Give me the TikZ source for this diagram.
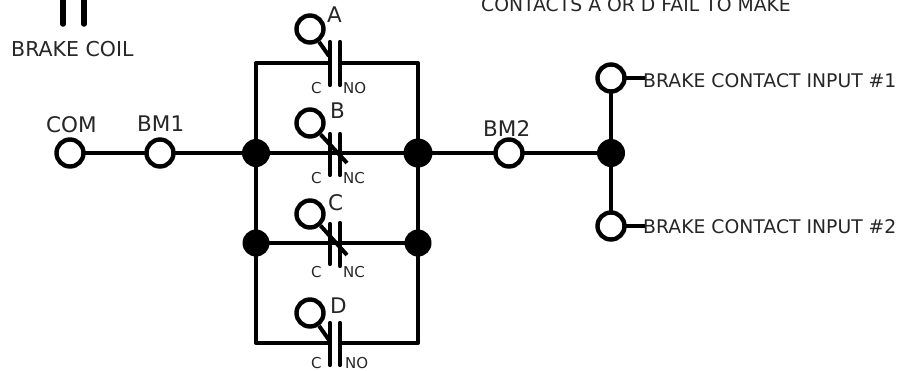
\documentclass[tikz,border=0pt]{standalone}
\usepackage{fontspec}
\setmainfont{DejaVu Sans}
\newcommand{\lbl}[1]{\fontsize{#1}{#1}\selectfont}
\tikzset{
  x=1pt,y=-1pt,
  wire/.style={line width=4pt,black},
  plate/.style={line width=4.2pt,black,line cap=round},
  term/.style={circle,draw=black,line width=4.4pt,fill=white,inner sep=0pt,minimum size=27pt},
  dot/.style={circle,fill=black,inner sep=0pt,minimum size=28pt},
  txt/.style={inner sep=0pt,text=black!85,anchor=base west},
  big/.style={txt,font=\lbl{21.5}},
  mid/.style={txt,font=\lbl{20.5}},
  small/.style={txt,font=\lbl{18.8}},
  tiny/.style={txt,font=\lbl{15}}
}
\begin{document}
\begin{tikzpicture}
\useasboundingbox[fill=white] (0,0) rectangle (907,370);
\coordinate (pcom) at (70,153);
\coordinate (pbm1) at (160,153);
\coordinate (pjl) at (256,153);
\coordinate (pjr) at (418,153);
\coordinate (pbm2) at (509,153);
\coordinate (pjo) at (611,153);
\coordinate (pin1) at (611,78);
\coordinate (pin2) at (611,226);
\coordinate (pjcl) at (256,243);
\coordinate (pjcr) at (418,243);
\coordinate (tl) at (256,63);
\coordinate (tr) at (418,63);
\coordinate (bl) at (256,343);
\coordinate (br) at (418,343);
\coordinate (a1) at (330,63);
\coordinate (a2) at (340,63);
\coordinate (d1) at (330,343);
\coordinate (d2) at (340,343);
\coordinate (w1) at (645,78);
\coordinate (w2) at (645,226);
% wires
\draw[wire] (pcom) -- (pbm1) -- (pjl) -- (pjr) -- (pbm2) -- (pjo);
\draw[wire] (pin1) -- (pjo) -- (pin2);
\draw[wire] (pin1) -- (w1);
\draw[wire] (pin2) -- (w2);
\draw[wire] (pjcl) -- (pjcr);
\draw[wire,line cap=round,line join=round] (a1) -- (tl) -- (pjl) -- (pjcl) -- (bl) -- (d1);
\draw[wire,line cap=round,line join=round] (a2) -- (tr) -- (pjr) -- (pjcr) -- (br) -- (d2);
% nodes
\node[term] (com) at (pcom) {};
\node[term] (bm1) at (pbm1) {};
\node[term] (bm2) at (pbm2) {};
\node[term] (in1) at (pin1) {};
\node[term] (in2) at (pin2) {};
\node[dot] (jl) at (pjl) {};
\node[dot,minimum size=29pt] (jr) at (pjr) {};
\node[dot] (jo) at (pjo) {};
\node[dot,minimum size=27pt] (jcl) at (pjcl) {};
\node[dot,minimum size=27pt] (jcr) at (pjcr) {};
% contact A
\node[term] (ca) at (310,29) {};
\draw[plate] (330,42) -- (330,85);
\draw[plate] (340,42) -- (340,85);
\draw[wire] (ca) -- (329,56);
% contact B
\node[term] (cb) at (310,123) {};
\draw[plate] (330,134) -- (330,175);
\draw[plate] (340,134) -- (340,175);
\draw[wire] (cb) -- (347,163);
% contact C
\node[term] (cc) at (310,214) {};
\draw[plate] (330,224) -- (330,264);
\draw[plate] (340,223) -- (340,266);
\draw[wire] (cc) -- (347,255);
% contact D
\node[term] (cd) at (310,313) {};
\draw[plate] (330,323) -- (330,365);
\draw[plate] (340,323) -- (340,365);
\draw[wire] (cd) -- (329,340);
% brake coil
\coordinate (k1t) at (63,-3);
\coordinate (k1b) at (63,24);
\coordinate (k2t) at (84,-3);
\coordinate (k2b) at (84,24);
\draw[line width=5.5pt,line cap=round] (k1t) -- (k1b);
\draw[line width=5.5pt,line cap=round] (k2t) -- (k2b);
% labels
\node[mid] (tcoil) at (11,56) {BRAKE COIL};
\node[big] (tcom) at (46,132) {COM};
\node[big] (tbm1) at (137,131) {BM1};
\node[big] (tbm2) at (483,136) {BM2};
\node[small] (ttop) at (481,11) {CONTACTS A OR D FAIL TO MAKE};
\node[small] (tin1) at (643,87) {BRAKE CONTACT INPUT \#1};
\node[small] (tin2) at (643,233) {BRAKE CONTACT INPUT \#2};
\node[big] (la) at (327,22) {A};
\node[big] (lb) at (330,118) {B};
\node[big] (lc) at (328,210) {C};
\node[big] (ld) at (330,313) {D};
\node[tiny] (a-c) at (311,93) {C};
\node[tiny] (a-n) at (343,93) {NO};
\node[tiny] (b-c) at (311,183) {C};
\node[tiny] (b-n) at (343,183) {NC};
\node[tiny] (c-c) at (311,277) {C};
\node[tiny] (c-n) at (343,277) {NC};
\node[tiny] (d-c) at (311,368) {C};
\node[tiny] (d-n) at (345,368) {NO};
\end{tikzpicture}
\end{document}
